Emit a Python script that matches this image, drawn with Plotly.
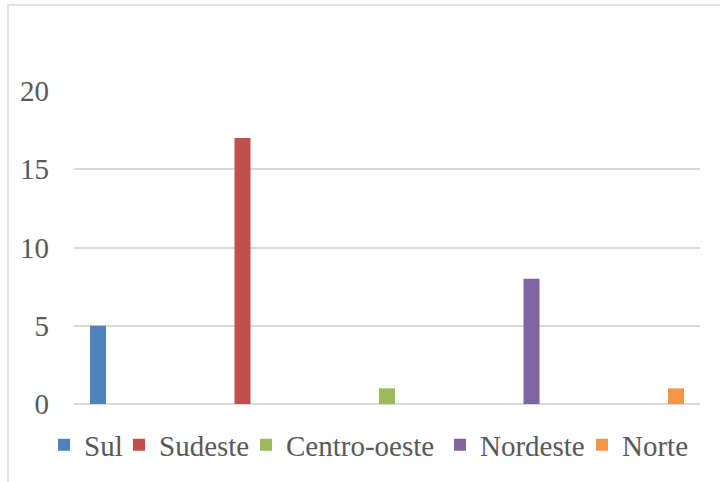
import plotly.graph_objects as go

# Data
series_names = ["Sul", "Sudeste", "Centro-oeste", "Nordeste", "Norte"]
series_values = [5, 17, 1, 8, 1]
series_colors = ["#4F81BD", "#C0504D", "#9BBB59", "#8064A2", "#F79646"]
category = [""]
y_ticks = [0, 5, 10, 15, 20]
legend_entry_widths = [30, 82, 149, 97, 66]

W, H = 720, 482
L, R, T, B = 74, 20, 91, 78
pw, ph = W - L - R, H - T - B

FONT = "Times New Roman"
GRAY = "#595959"
GRID = "#d9d9d9"

fig = go.Figure()
for name, val, col, lw in zip(series_names, series_values, series_colors,
                              legend_entry_widths):
    fig.add_trace(go.Bar(x=category, y=[val], name=name, marker_color=col,
                         marker_line_width=0, legendwidth=lw))

def px2paper_x(px):
    return (px - L) / pw

def px2paper_y(py):
    return (H - B - py) / ph

# chart-area border (Excel chart frame), partially outside the view
fig.add_shape(type="rect", xref="paper", yref="paper",
              x0=px2paper_x(8), x1=px2paper_x(760),
              y0=px2paper_y(520), y1=px2paper_y(5),
              line=dict(color=GRID, width=1.5), fillcolor="rgba(0,0,0,0)",
              layer="below")

fig.update_layout(
    width=W, height=H,
    margin=dict(l=L, r=R, t=T, b=B, pad=0, autoexpand=False),
    paper_bgcolor="white", plot_bgcolor="white",
    barmode="group", bargap=0.0, bargroupgap=0.889,
    font=dict(family=FONT, size=29, color=GRAY),
    showlegend=True,
    legend=dict(orientation="h",
                x=px2paper_x(58 - 14), xanchor="left",
                y=px2paper_y(445), yanchor="middle",
                font=dict(family=FONT, size=29, color=GRAY),
                itemwidth=30, bgcolor="rgba(0,0,0,0)", traceorder="normal",
                entrywidthmode="pixels"),
    xaxis=dict(type="category", range=[-0.4332, 0.4332], showticklabels=False,
               showgrid=False, zeroline=False, showline=False, ticks=""),
    yaxis=dict(range=[0, 20], tickvals=y_ticks, showgrid=True, gridcolor=GRID,
               gridwidth=2, zeroline=True, zerolinecolor=GRID, zerolinewidth=2,
               showline=False, ticks="", ticklabelstandoff=24,
               tickfont=dict(family=FONT, size=29, color=GRAY)),
)

fig.write_html("out.html")
